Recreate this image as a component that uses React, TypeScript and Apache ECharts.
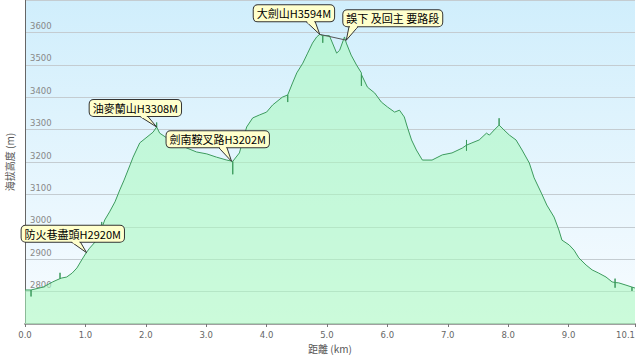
import React, { useEffect, useRef } from "react";
import * as echarts from "echarts";

// Distance (km) and elevation (m) along the trail
const distanceKm = [
  0.0, 0.1, 0.1, 0.1, 0.3, 0.46, 0.53, 0.58, 0.58, 0.58, 0.61, 0.69, 0.78, 0.86, 0.94,
  1.01, 1.07, 1.16, 1.24, 1.27, 1.27, 1.27, 1.32, 1.4, 1.49, 1.57, 1.64, 1.74, 1.79, 1.9,
  2.02, 2.12, 2.18, 2.18, 2.18, 2.23, 2.35, 2.51, 2.68, 2.84, 3.01, 3.17, 3.34, 3.44, 3.44,
  3.44, 3.55, 3.67, 3.77, 3.88, 4.0, 4.1, 4.26, 4.35, 4.35, 4.35, 4.43, 4.5, 4.6, 4.68,
  4.76, 4.83, 4.88, 4.93, 4.93, 4.93, 5.04, 5.16, 5.21, 5.29, 5.32, 5.4, 5.49, 5.57, 5.57,
  5.57, 5.67, 5.79, 5.9, 6.0, 6.12, 6.2, 6.28, 6.33, 6.4, 6.48, 6.56, 6.58, 6.74, 6.91,
  7.07, 7.24, 7.31, 7.31, 7.31, 7.31, 7.4, 7.52, 7.64, 7.69, 7.77, 7.85, 7.85, 7.85, 7.93,
  8.02, 8.13, 8.23, 8.35, 8.43, 8.55, 8.64, 8.76, 8.84, 8.89, 9.01, 9.09, 9.17, 9.29, 9.39,
  9.5, 9.62, 9.72, 9.77, 9.77, 9.77, 9.77, 9.83, 9.95, 10.05, 10.05, 10.05, 10.1,
];
const elevationM = [
  2805, 2805, 2785, 2805, 2814, 2830, 2836, 2840, 2858, 2840, 2842, 2845, 2857, 2873, 2898,
  2919, 2934, 2953, 2984, 2995, 3015, 2995, 3021, 3046, 3077, 3114, 3144, 3191, 3215, 3259,
  3277, 3292, 3308, 3322, 3308, 3289, 3274, 3259, 3243, 3231, 3225, 3215, 3206, 3202, 3162,
  3202, 3228, 3308, 3336, 3345, 3354, 3376, 3400, 3407, 3385, 3407, 3444, 3475, 3505, 3536,
  3567, 3586, 3594, 3590, 3568, 3590, 3590, 3536, 3545, 3586, 3567, 3530, 3499, 3475, 3435,
  3470, 3431, 3413, 3385, 3370, 3354, 3360, 3339, 3308, 3268, 3237, 3212, 3206, 3206, 3222,
  3228, 3243, 3252, 3268, 3235, 3252, 3259, 3268, 3289, 3283, 3299, 3314, 3335, 3314, 3299,
  3283, 3268, 3237, 3197, 3151, 3104, 3067, 3030, 2990, 2959, 2944, 2928, 2904, 2882, 2867,
  2857, 2845, 2830, 2828, 2840, 2812, 2828, 2827, 2820, 2814, 2802, 2814, 2811,
];

// Annotated waypoints
const calloutLabels = [
  "大劍山H3594M",
  "誤下 及回主 要路段",
  "油麥蘭山H3308M",
  "劍南鞍叉路H3202M",
  "防火巷盡頭H2920M",
];
const calloutKm = [4.88, 5.32, 2.18, 3.42, 1.02];
const calloutElev = [3594, 3576, 3308, 3202, 2920];

// Wrong-way connector between the two summit points
const detourKm = [4.88, 5.32];
const detourElev = [3594, 3576];

// X tick labels
const xTickValues = [0, 1, 2, 3, 4, 5, 6, 7, 8, 9, 10.1];

// Callout layout relative to the pointed point: box left, box top, tail base left/right
const calloutLayout = [
  { dx: -66, dy: -29, b0: -15, b1: -5 },
  { dx: -3, dy: -30, b0: 3, b1: 13 },
  { dx: -67, dy: -27, b0: -19, b1: -10 },
  { dx: -65, dy: -30, b0: -14, b1: -5 },
  { dx: -65, dy: -27, b0: -17, b1: -7 },
];

const BOX_FILL = "#ffffcc";
const BOX_STROKE = "#333333";
const BOX_H = 16;

export default function App() {
  const ref = useRef<HTMLDivElement>(null);

  useEffect(() => {
    document.body.style.margin = "0";
    if (!ref.current) return;
    const chart = echarts.init(ref.current, null, { renderer: "svg" });

    const profile = distanceKm.map((d, i) => [d, elevationM[i]]);
    const callouts = calloutKm.map((d, i) => [d, calloutElev[i], i]);
    const detour = detourKm.map((d, i) => [d, detourElev[i]]);

    const option: any = {
      animation: false,
      backgroundColor: "#ffffff",
      grid: {
        left: 25,
        right: 5,
        top: 0,
        bottom: 33,
        containLabel: false,
        outerBoundsMode: "none",
        show: true,
        borderWidth: 0,
        backgroundColor: new echarts.graphic.LinearGradient(0, 0, 0, 1, [
          { offset: 0, color: "#d0eefc" },
          { offset: 1, color: "#f8fcff" },
        ]),
      },
      xAxis: {
        type: "value",
        min: 0,
        max: 10.1,
        interval: 1,
        name: "距離 (km)",
        nameLocation: "middle",
        nameGap: 19,
        nameTextStyle: { color: "#555", fontSize: 10, fontFamily: "'Noto Sans CJK TC', 'DejaVu Sans'" },
        axisLine: { show: true, lineStyle: { color: "#a0a0a0", width: 2 } },
        axisTick: { show: true, length: 3, lineStyle: { color: "#777" }, customValues: xTickValues },
        axisLabel: {
          color: "#666",
          fontSize: 8.5,
          fontFamily: "'DejaVu Sans'",
          margin: 6,
          customValues: xTickValues,
          alignMaxLabel: "right",
          formatter: (v: number) => v.toFixed(1),
        },
        splitLine: { show: false },
      },
      yAxis: {
        type: "value",
        min: 2700,
        max: 3700,
        interval: 100,
        name: "海拔高度 (m)",
        nameLocation: "middle",
        nameGap: 11,
        nameTextStyle: { color: "#555", fontSize: 10, fontFamily: "'Noto Sans CJK TC', 'DejaVu Sans'" },
        axisLine: { show: true, lineStyle: { color: "#666", width: 1 } },
        axisTick: { show: false },
        axisLabel: {
          inside: true,
          showMinLabel: false,
          showMaxLabel: false,
          color: "#888",
          fontSize: 8.5,
          fontFamily: "'DejaVu Sans'",
          margin: 5,
          verticalAlign: "bottom",
          padding: [0, 0, 2, 0],
          formatter: (v: number) => String(v),
        },
        splitLine: { show: true, lineStyle: { color: "#c4ccd1", width: 1 } },
      },
      series: [
        {
          type: "line",
          data: profile,
          symbol: "none",
          showSymbol: false,
          lineStyle: { color: "#3d9b5e", width: 1 },
          areaStyle: { color: "rgba(170,250,190,0.82)", origin: "start" },
          silent: true,
          z: 2,
        },
        {
          type: "line",
          data: detour,
          symbol: "none",
          lineStyle: { color: "#555", width: 1 },
          silent: true,
          z: 3,
        },
        {
          type: "custom",
          coordinateSystem: "cartesian2d",
          data: callouts,
          clip: false,
          silent: true,
          z: 5,
          renderItem: (params: any, api: any) => {
            const p = api.coord([api.value(0), api.value(1)]);
            const i = params.dataIndex;
            const L = calloutLayout[i];
            const by = p[1] + L.dy + BOX_H;
            const lx = p[0] + L.b0;
            const rx = p[0] + L.b1;
            const t = 0.18;
            const lpx = lx + (p[0] - lx) * t + 1;
            const lpy = by + (p[1] - by) * t;
            const rpx = rx + (p[0] - rx) * t - 1;
            const rpy = by + (p[1] - by) * t;
            return {
              type: "group",
              children: [
                {
                  type: "polygon",
                  z2: 1,
                  shape: { points: [[lx, by - 1], [p[0], p[1]], [rx, by - 1]] },
                  style: { fill: BOX_FILL, stroke: BOX_STROKE, lineWidth: 1 },
                },
                {
                  type: "text",
                  z2: 2,
                  x: p[0] + L.dx,
                  y: p[1] + L.dy,
                  style: {
                    text: calloutLabels[i],
                    fill: "#000",
                    fontSize: 11,
                    fontFamily: "'Noto Sans CJK TC'",
                    lineHeight: 12,
                    align: "left",
                    verticalAlign: "top",
                    backgroundColor: BOX_FILL,
                    borderColor: BOX_STROKE,
                    borderWidth: 1,
                    borderRadius: 4,
                    padding: [2, 3],
                  },
                },
                {
                  type: "polygon",
                  z2: 3,
                  shape: { points: [[lx + 1, by - 2], [rx - 1, by - 2], [rpx, rpy], [lpx, lpy]] },
                  style: { fill: BOX_FILL, stroke: "none" },
                },
              ],
            };
          },
        },
      ],
    };

    chart.setOption(option);
    return () => chart.dispose();
  }, []);

  return <div ref={ref} style={{ width: 640, height: 357 }} />;
}
